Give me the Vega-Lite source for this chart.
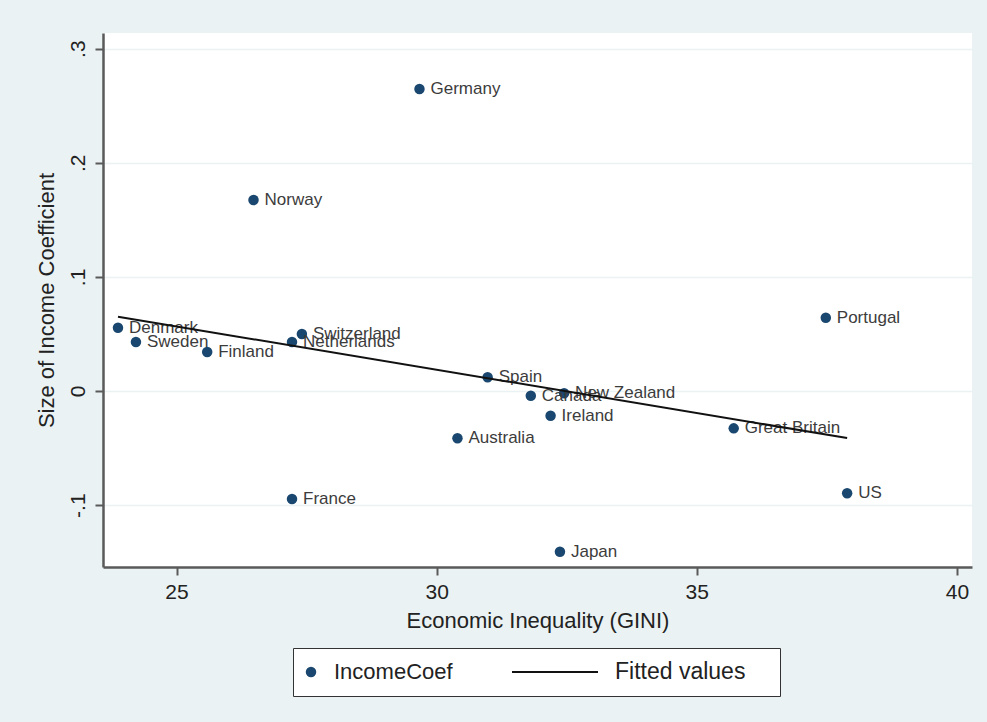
{
  "$schema": "https://vega.github.io/schema/vega-lite/v6.json",
  "width": 869,
  "height": 534,
  "autosize": {"type": "none"},
  "padding": {"left": 103, "top": 33, "right": 15, "bottom": 155},
  "background": "#eaf2f3",
  "view": {"fill": "white", "stroke": null},
  "config": {"font": "Liberation Sans"},
  "datasets": {
    "points": [
      {"country": "Germany", "gini": 29.67, "coef": 0.2646, "series": "IncomeCoef"},
      {"country": "Norway", "gini": 26.48, "coef": 0.1673, "series": "IncomeCoef"},
      {"country": "Denmark", "gini": 23.875, "coef": 0.0555, "series": "IncomeCoef"},
      {"country": "Sweden", "gini": 24.22, "coef": 0.0429, "series": "IncomeCoef"},
      {"country": "Finland", "gini": 25.59, "coef": 0.0342, "series": "IncomeCoef"},
      {"country": "Netherlands", "gini": 27.22, "coef": 0.0429, "series": "IncomeCoef"},
      {"country": "Switzerland", "gini": 27.41, "coef": 0.0499, "series": "IncomeCoef"},
      {"country": "France", "gini": 27.22, "coef": -0.0946, "series": "IncomeCoef"},
      {"country": "Spain", "gini": 30.98, "coef": 0.012, "series": "IncomeCoef"},
      {"country": "Canada", "gini": 31.81, "coef": -0.0041, "series": "IncomeCoef"},
      {"country": "New Zealand", "gini": 32.45, "coef": -0.002, "series": "IncomeCoef"},
      {"country": "Ireland", "gini": 32.19, "coef": -0.0216, "series": "IncomeCoef"},
      {"country": "Australia", "gini": 30.4, "coef": -0.0414, "series": "IncomeCoef"},
      {"country": "Japan", "gini": 32.37, "coef": -0.1408, "series": "IncomeCoef"},
      {"country": "Great Britain", "gini": 35.71, "coef": -0.0327, "series": "IncomeCoef"},
      {"country": "Portugal", "gini": 37.48, "coef": 0.0642, "series": "IncomeCoef"},
      {"country": "US", "gini": 37.89, "coef": -0.0896, "series": "IncomeCoef"}
    ],
    "fit": [
      {"gini": 23.875, "coef": 0.0651, "series": "Fitted values"},
      {"gini": 37.89, "coef": -0.0412, "series": "Fitted values"}
    ]
  },
  "encoding": {
    "x": {
      "field": "gini",
      "type": "quantitative",
      "scale": {"domain": [23.587, 40.29], "nice": false, "zero": false},
      "axis": {
        "values": [25, 30, 35, 40],
        "title": "Economic Inequality (GINI)",
        "grid": false,
        "domainColor": "#5a5a5a",
        "domainWidth": 2.5,
        "tickColor": "#5a5a5a",
        "tickWidth": 2,
        "tickSize": 8,
        "labelFontSize": 21,
        "labelColor": "#222",
        "labelPadding": 6,
        "labelFlush": false,
        "titleFontSize": 22,
        "titleFontWeight": "normal",
        "titleColor": "#222",
        "titleY": 60,
        "titleBaseline": "alphabetic"
      }
    },
    "y": {
      "field": "coef",
      "type": "quantitative",
      "scale": {"domain": [-0.1542, 0.3137], "nice": false, "zero": false},
      "axis": {
        "values": [-0.1, 0, 0.1, 0.2, 0.3],
        "labelExpr": "datum.value == 0 ? '0' : (datum.value < 0 ? '-.' : '.') + format(abs(datum.value) * 10, '.0f')",
        "title": "Size of Income Coefficient",
        "grid": true,
        "gridColor": "#eaf2f3",
        "gridWidth": 1.5,
        "domainColor": "#5a5a5a",
        "domainWidth": 2.5,
        "tickColor": "#5a5a5a",
        "tickWidth": 2,
        "tickSize": 8,
        "labelFontSize": 21,
        "labelColor": "#222",
        "labelAngle": 270,
        "labelAlign": "center",
        "labelBaseline": "bottom",
        "labelPadding": 7,
        "labelFlush": false,
        "titleFontSize": 22,
        "titleFontWeight": "normal",
        "titleColor": "#222",
        "titleAngle": 270,
        "titleX": -50,
        "titleBaseline": "alphabetic"
      }
    }
  },
  "layer": [
    {
      "data": {"name": "points"},
      "mark": {"type": "point", "filled": true, "opacity": 1, "size": 110, "color": "#1a476f"},
      "encoding": {
        "shape": {
          "field": "series",
          "type": "nominal",
          "scale": {"domain": ["IncomeCoef"], "range": ["circle"]},
          "legend": {
            "orient": "none",
            "legendX": 190,
            "legendY": 615,
            "title": "\u00a0",
            "titleOrient": "right",
            "titlePadding": 315,
            "titleFontSize": 22,
            "direction": "horizontal",
            "padding": 12,
            "strokeColor": "#333333",
            "fillColor": "white",
            "clipHeight": 24,
            "labelFont": "Liberation Sans",
            "labelFontSize": 22,
            "labelColor": "#222",
            "labelOffset": 12,
            "symbolOffset": -5,
            "symbolSize": 110
          }
        }
      }
    },
    {
      "data": {"name": "points"},
      "mark": {"type": "text", "align": "left", "baseline": "middle", "dx": 11, "fontSize": 17, "color": "#3c3c3c"},
      "encoding": {"text": {"field": "country"}}
    },
    {
      "data": {"name": "fit"},
      "mark": {"type": "line", "strokeWidth": 2},
      "encoding": {
        "color": {
          "field": "series",
          "type": "nominal",
          "scale": {"domain": ["Fitted values"], "range": ["#111111"]},
          "legend": {
            "orient": "none",
            "legendX": 408,
            "legendY": 627,
            "title": null,
            "direction": "horizontal",
            "padding": 0,
            "clipHeight": 24,
            "labelFont": "Liberation Sans",
            "labelFontSize": 23,
            "labelColor": "#222",
            "labelOffset": 16,
            "symbolSize": 7396,
            "symbolStrokeWidth": 2
          }
        }
      }
    }
  ]
}
